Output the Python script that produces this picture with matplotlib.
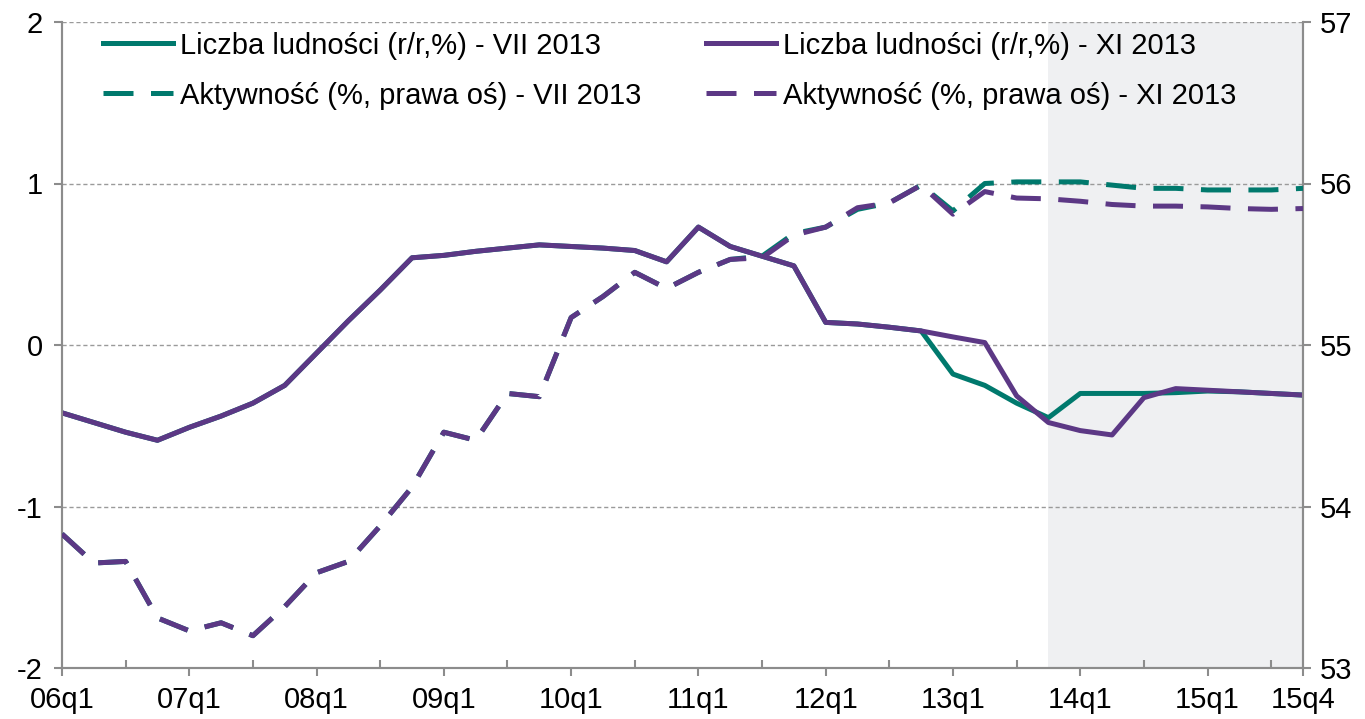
import numpy as np
import matplotlib
matplotlib.use("Agg")
import matplotlib.pyplot as plt

plt.rcParams['font.family'] = ['Liberation Sans', 'DejaVu Sans']
plt.rcParams['axes.unicode_minus'] = False

# kwartały 06q1 .. 15q4
quarters = [f"{y:02d}q{q}" for y in range(6, 16) for q in range(1, 5)]

# Liczba ludności (r/r, %) - lewa oś
pop_xi = [-0.42, -0.48, -0.54, -0.59, -0.51, -0.44, -0.36, -0.25, -0.05, 0.15,
          0.34, 0.54, 0.555, 0.58, 0.60, 0.62, 0.61, 0.60, 0.585, 0.515,
          0.73, 0.61, 0.55, 0.49, 0.14, 0.13, 0.11, 0.087, 0.05, 0.015,
          -0.315, -0.48, -0.53, -0.557, -0.326, -0.27, -0.28, -0.29, -0.30, -0.31]
pop_vii = [-0.42, -0.48, -0.54, -0.59, -0.51, -0.44, -0.36, -0.25, -0.05, 0.15,
           0.34, 0.54, 0.555, 0.58, 0.60, 0.62, 0.61, 0.60, 0.585, 0.515,
           0.73, 0.61, 0.55, 0.49, 0.14, 0.13, 0.11, 0.087, -0.18, -0.25,
           -0.36, -0.45, -0.30, -0.30, -0.30, -0.295, -0.285, -0.29, -0.30, -0.31]

# Aktywność (%) - prawa oś
act_xi = [53.83, 53.65, 53.66, 53.31, 53.23, 53.28, 53.20, 53.38, 53.59, 53.66,
          53.88, 54.12, 54.46, 54.41, 54.70, 54.68, 55.17, 55.30, 55.45, 55.35,
          55.45, 55.53, 55.54, 55.68, 55.73, 55.85, 55.88, 55.99, 55.81, 55.95,
          55.91, 55.905, 55.89, 55.87, 55.86, 55.86, 55.855, 55.845, 55.84, 55.845]
act_vii = [53.83, 53.65, 53.66, 53.31, 53.23, 53.28, 53.20, 53.38, 53.59, 53.66,
           53.88, 54.12, 54.46, 54.41, 54.70, 54.68, 55.17, 55.30, 55.45, 55.35,
           55.45, 55.53, 55.55, 55.69, 55.73, 55.84, 55.88, 55.99, 55.83, 56.00,
           56.01, 56.01, 56.01, 55.99, 55.97, 55.97, 55.96, 55.96, 55.96, 55.97]

forecast_start = 31  # 13q4

TEAL = '#00796D'
PURPLE = '#5C3885'
GRID = '#9a9a9a'
SPINE = '#8c8c8c'
FS = 21
LW = 3.6

x = np.arange(len(quarters))

fig = plt.figure(figsize=(13.65, 7.19), dpi=100)
ax = fig.add_axes([62/1365, 51/719, 1241/1365, 646/719])
ax2 = ax.twinx()

ax.axvspan(forecast_start, len(quarters) - 1, color='#eff0f2', zorder=0, lw=0)
for v in [-1, 0, 1, 2]:
    ax.axhline(v, color=GRID, lw=1, ls=(0, (3, 2)), zorder=1)

l1, = ax.plot(x, pop_vii, color=TEAL, lw=LW, zorder=3)
l3, = ax.plot(x, pop_xi, color=PURPLE, lw=LW, zorder=4)
l2, = ax2.plot(x, act_vii, color=TEAL, lw=LW, ls=(0, (6, 3.5)), zorder=3)
l4, = ax2.plot(x, act_xi, color=PURPLE, lw=LW, ls=(0, (6, 3.5)), zorder=4)

ax.set_xlim(0, len(quarters) - 1)
ax.set_ylim(-2, 2)
ax2.set_ylim(53, 57)
ax.set_yticks([-2, -1, 0, 1, 2])
ax2.set_yticks([53, 54, 55, 56, 57])

major = list(range(0, 37, 4)) + [39]
ax.set_xticks(major)
ax.set_xticklabels([quarters[i] for i in major])
ax.set_xticks(range(2, 39, 4), minor=True)

for a in (ax, ax2):
    a.spines['top'].set_visible(False)
    for s in ('left', 'right', 'bottom'):
        a.spines[s].set_color(SPINE)
        a.spines[s].set_linewidth(1.5)
    a.tick_params(axis='both', which='major', labelsize=FS, color=SPINE,
                  width=1.5, length=6, direction='out')
ax.tick_params(axis='x', which='major', pad=7)
ax.tick_params(axis='x', which='minor', direction='in', length=6,
               width=1.5, color=SPINE)
ax.tick_params(axis='y', pad=8)
ax2.tick_params(axis='y', pad=6)

handles = [l1, l2, l3, l4]
labels = ['Liczba ludności (r/r,%) - VII 2013',
          'Aktywność (%, prawa oś) - VII 2013',
          'Liczba ludności (r/r,%) - XI 2013',
          'Aktywność (%, prawa oś) - XI 2013']
ax2.legend(handles, labels, ncol=2, loc='upper left',
           bbox_to_anchor=(0.033, 0.985), frameon=False, fontsize=FS,
           handlelength=2.4, handletextpad=0.25, columnspacing=2.2,
           labelspacing=0.75, borderpad=0, borderaxespad=0)

fig.savefig('out.png', dpi=100)
